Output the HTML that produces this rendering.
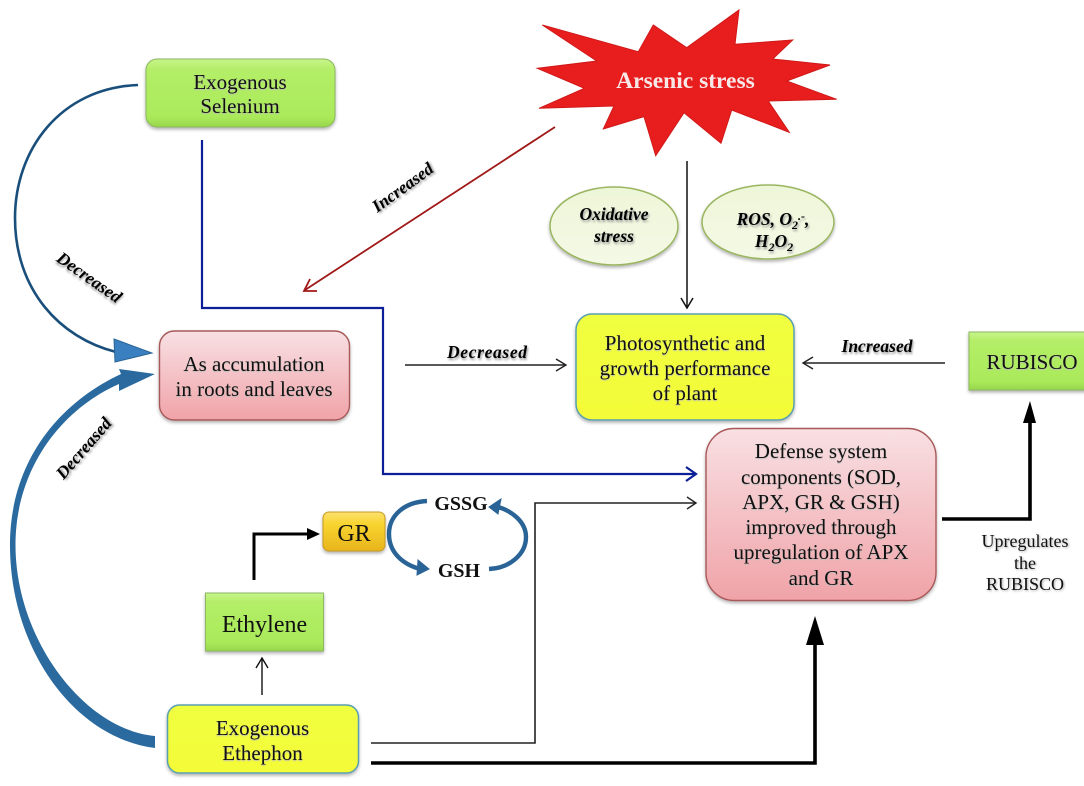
<!DOCTYPE html>
<html><head><meta charset="utf-8"><style>
html,body{margin:0;padding:0;background:#fff}
svg{display:block;filter:blur(.35px)}
text{font-family:"Liberation Serif",serif;text-anchor:middle;fill:#111}
.n{font-size:21px;text-shadow:0 1px 1px #bbb}
.l{font-size:17.5px;font-weight:bold;font-style:italic;fill:#000;text-shadow:1px 2px 2px #999}
.u{font-size:18px;text-shadow:1px 1px 2px #aaa}
</style></head><body>
<svg width="1084" height="786" viewBox="0 0 1084 786" xmlns="http://www.w3.org/2000/svg">
<defs>
<linearGradient id="g" x1="0" y1="0" x2="0" y2="1"><stop offset="0" stop-color="#c8f48c"/><stop offset=".15" stop-color="#b4ee68"/><stop offset=".85" stop-color="#aaea5a"/><stop offset="1" stop-color="#98d64c"/></linearGradient>
<linearGradient id="p" x1="0" y1="0" x2="0" y2="1"><stop offset="0" stop-color="#f8e0e3"/><stop offset="1" stop-color="#f0a3a8"/></linearGradient>
<linearGradient id="y" x1="0" y1="0" x2="0" y2="1"><stop offset="0" stop-color="#f0ff40"/><stop offset="1" stop-color="#f4fb38"/></linearGradient>
<linearGradient id="o" x1="0" y1="0" x2="0" y2="1"><stop offset="0" stop-color="#fbe070"/><stop offset=".3" stop-color="#f8d530"/><stop offset="1" stop-color="#e8b41c"/></linearGradient>
<linearGradient id="e" x1="0" y1="0" x2="0" y2="1"><stop offset="0" stop-color="#eef6d8"/><stop offset="1" stop-color="#f4f9e6"/></linearGradient>
<filter id="s" x="-10%" y="-10%" width="120%" height="125%"><feDropShadow dx="0" dy="2" stdDeviation="1.5" flood-color="#000" flood-opacity=".3"/></filter>
</defs>

<!-- connectors -->
<path d="M138,85 C60,88 15,150 15,218 C15,290 60,338 116,352" fill="none" stroke="#1a4f7c" stroke-width="2.6"/>
<polygon points="114,339 152,353 115,362" fill="#3a7fc0" stroke="#2a6496"/>
<path d="M155,748 C75,738 10,650 10,545 C10,465 55,405 121,374 L119,369 L155,374 L119,391 L119,384 C60,410 15.500,470 15.500,545 C15.500,640 85,730 155,736 Z" fill="#2a6a9e"/>
<path d="M202,140 V308 H383 V474 H695" fill="none" stroke="#0c1f96" stroke-width="2.2"/>
<path d="M686,467 L696,474 L686,481" fill="none" stroke="#0c1f96" stroke-width="2.2"/>
<path d="M555,127 L305,290" stroke="#a01818" stroke-width="1.8" fill="none"/>
<path d="M317,291 L304,291 L310,279" fill="none" stroke="#a01818" stroke-width="1.8"/>
<path d="M687,161 V308" stroke="#111" stroke-width="1.5" fill="none"/>
<path d="M681,298 L687,308 L693,298" fill="none" stroke="#111" stroke-width="1.5"/>
<path d="M405,365 H565" stroke="#222" stroke-width="1.4" fill="none"/>
<path d="M556,359 L566,365 L556,371" fill="none" stroke="#222" stroke-width="1.4"/>
<path d="M945,363 H804" stroke="#222" stroke-width="1.4" fill="none"/>
<path d="M813,357 L803,363 L813,369" fill="none" stroke="#222" stroke-width="1.4"/>
<path d="M262,695 V659" stroke="#111" stroke-width="1.4" fill="none"/>
<path d="M256,668 L262,658 L268,668" fill="none" stroke="#111" stroke-width="1.4"/>
<path d="M254,580 V534 H310" fill="none" stroke="#000" stroke-width="3"/>
<polygon points="307,528 320,534 307,540" fill="#000"/>
<path d="M371,743 H535 V503 H695" fill="none" stroke="#222" stroke-width="1.6"/>
<path d="M687,497 L696,503 L687,509" fill="none" stroke="#222" stroke-width="1.4"/>
<path d="M371,763 H815 V640" fill="none" stroke="#000" stroke-width="3.6"/>
<polygon points="815,616 824,645 806,645" fill="#000"/>
<path d="M942,519 H1030 V420" fill="none" stroke="#000" stroke-width="3.6"/>
<polygon points="1030,401 1036,423 1023,423" fill="#000"/>

<!-- cycle -->
<path d="M427,501 C405,502 389,515 389,534 C389,552 402,564 420,569" fill="none" stroke="#2a6496" stroke-width="4.4"/>
<polygon points="418,560 429,569 417,575" fill="#2a6496" stroke="#2a6496"/>
<path d="M489,569 C510,568 526,554 526,537 C526,522 512,511 498,507" fill="none" stroke="#2a6496" stroke-width="4.4"/>
<polygon points="489,507 501,499 498,514" fill="#2a6496" stroke="#2a6496"/>

<!-- star -->
<polygon points="542.3,25 638.3,51.7 653.3,25 686.7,47.7 739,10 735,44.3 792.7,40 772.7,59 830,65 786.7,81 836.7,99.3 768.3,101 789.3,132.3 731.7,110 721,143.3 684,112.7 655.7,155.7 644,116.7 603.3,129 614,106 539,108.3 584.3,88.3 537.3,68.3 596.7,61" fill="#e81e1e" stroke="#d01818"/>
<text x="685.500" y="88" style="font-size:23.500px;font-weight:bold;fill:#f8e8e8">Arsenic stress</text>

<!-- ellipses -->
<ellipse cx="614" cy="226" rx="64" ry="39" fill="url(#e)" stroke="#9ab560" stroke-width="1.5" filter="url(#s)"/>
<ellipse cx="768" cy="222" rx="66" ry="37" fill="url(#e)" stroke="#9ab560" stroke-width="1.5" filter="url(#s)"/>
<text class="l" x="614" y="220">Oxidative</text>
<text class="l" x="614" y="242">stress</text>
<text class="l" x="773" y="225">ROS, O<tspan dy="4" font-size="12">2</tspan><tspan dy="-9" font-size="12">.-</tspan><tspan dy="5">,</tspan></text>
<text class="l" x="774" y="247">H<tspan dy="4" font-size="12">2</tspan><tspan dy="-4">O</tspan><tspan dy="4" font-size="12">2</tspan></text>

<!-- boxes -->
<rect x="146" y="59" width="189" height="68" rx="11" fill="url(#g)" stroke="#8cb860" filter="url(#s)"/>
<text class="n" x="240" y="89">Exogenous</text>
<text class="n" x="240" y="113">Selenium</text>

<rect x="159.500" y="331" width="190" height="89" rx="15" fill="url(#p)" stroke="#a85858" stroke-width="1.4" filter="url(#s)"/>
<text class="n" x="254" y="371" textLength="141">As accumulation</text>
<text class="n" x="254" y="396" textLength="157">in roots and leaves</text>

<rect x="576" y="314" width="218" height="106" rx="16" fill="url(#y)" stroke="#5a9fb0" stroke-width="1.5" filter="url(#s)"/>
<text class="n" x="685" y="350">Photosynthetic and</text>
<text class="n" x="685" y="375">growth performance</text>
<text class="n" x="685" y="400">of plant</text>

<rect x="969" y="332" width="120" height="58" fill="url(#g)" stroke="#8cb860" filter="url(#s)"/>
<text class="n" x="1032" y="369" textLength="91">RUBISCO</text>

<rect x="706" y="428.500" width="230" height="172" rx="28" fill="url(#p)" stroke="#a85858" stroke-width="1.4" filter="url(#s)"/>
<text class="n" x="821" y="458">Defense system</text>
<text class="n" x="821" y="484" textLength="160">components (SOD,</text>
<text class="n" x="821" y="509">APX, GR &amp; GSH)</text>
<text class="n" x="821" y="534">improved through</text>
<text class="n" x="821" y="559">upregulation of APX</text>
<text class="n" x="821" y="585">and GR</text>

<rect x="323" y="512" width="62" height="39" rx="6" fill="url(#o)" stroke="#c89a20" filter="url(#s)"/>
<text x="354" y="541" style="font-size:24px">GR</text>

<rect x="205.500" y="593" width="118" height="58" fill="url(#g)" stroke="#8cb860" filter="url(#s)"/>
<text x="264.500" y="632" style="font-size:24px">Ethylene</text>

<rect x="167.500" y="705" width="191" height="68" rx="12" fill="url(#y)" stroke="#5a9fb0" stroke-width="1.5" filter="url(#s)"/>
<text class="n" x="262.500" y="735">Exogenous</text>
<text class="n" x="262.500" y="760">Ethephon</text>

<!-- labels -->
<text x="461" y="510" style="font-size:20px;font-weight:bold">GSSG</text>
<text x="459" y="577" style="font-size:20px;font-weight:bold">GSH</text>
<text class="u" x="1025" y="547">Upregulates</text>
<text class="u" x="1025" y="569">the</text>
<text class="u" x="1025" y="590">RUBISCO</text>
<text class="l" x="877" y="352">Increased</text>
<text class="l" x="487" y="358" textLength="80">Decreased</text>
<text class="l" transform="translate(406,192) rotate(-36)">Increased</text>
<text class="l" transform="translate(86,282) rotate(35)">Decreased</text>
<text class="l" transform="translate(88,452) rotate(-49)">Decreased</text>
</svg>
</body></html>
